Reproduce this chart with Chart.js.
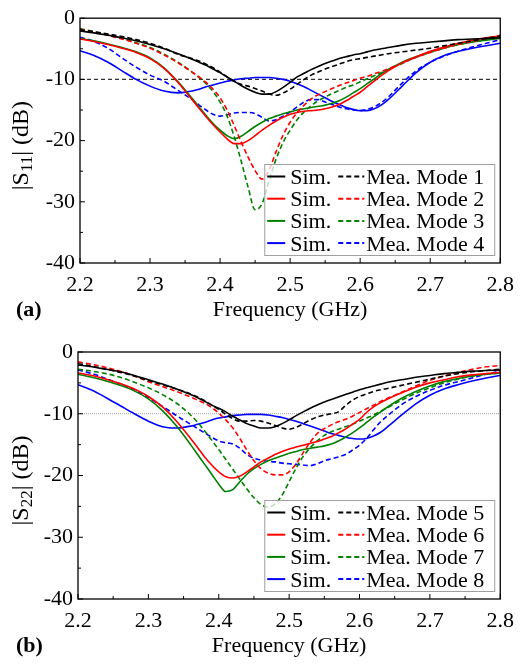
<!DOCTYPE html>
<html>
<head>
<meta charset="utf-8">
<script src="https://cdn.jsdelivr.net/npm/chart.js@4.4.1/dist/chart.umd.min.js"></script>
<style>
body{margin:0;background:#fff;}
#wrapA{position:absolute;left:0;top:0;width:523px;height:330px;}
#wrapB{position:absolute;left:0;top:330px;width:523px;height:338px;}
</style>
</head>
<body>
<div id="wrapA"><canvas id="chartA" width="523" height="330"></canvas></div>
<div id="wrapB"><canvas id="chartB" width="523" height="338"></canvas></div>
<script>
// frequency points (GHz), shared by every curve
const freq=[2.20,2.22,2.24,2.26,2.28,2.30,2.32,2.34,2.36,2.37,2.38,2.39,2.40,2.41,2.42,2.43,2.44,2.45,2.46,2.47,2.48,2.49,2.50,2.51,2.52,2.53,2.54,2.55,2.56,2.57,2.58,2.59,2.60,2.61,2.62,2.63,2.64,2.66,2.68,2.70,2.72,2.74,2.76,2.78,2.80];

const xTicks=[2.2,2.3,2.4,2.5,2.6,2.7,2.8];
const yTicks=[0,-10,-20,-30,-40];

// (a) |S11|
const s11Sim1=[-2.1,-2.4,-2.8,-3.2,-3.7,-4.3,-5.0,-5.8,-6.7,-7.2,-7.7,-8.3,-8.9,-9.6,-10.3,-11.0,-11.6,-12.1,-12.4,-12.4,-12.0,-11.3,-10.5,-9.6,-9.0,-8.4,-7.9,-7.4,-7.0,-6.6,-6.3,-6.0,-5.8,-5.5,-5.2,-5.0,-4.8,-4.4,-4.1,-3.9,-3.7,-3.5,-3.4,-3.3,-3.2];
const s11Mea1=[-1.9,-2.2,-2.6,-3.0,-3.5,-4.1,-4.9,-5.9,-6.6,-7.0,-7.5,-8.1,-8.8,-9.6,-10.3,-10.8,-11.1,-11.5,-11.9,-12.4,-12.6,-12.2,-11.6,-10.8,-10.0,-9.3,-8.8,-8.3,-7.9,-7.5,-7.1,-6.8,-6.6,-6.4,-6.2,-6.0,-5.8,-5.5,-5.2,-4.9,-4.5,-4.1,-3.7,-3.3,-2.9];
const s11Sim2=[-3.4,-3.8,-4.3,-4.9,-5.6,-6.6,-8.2,-10.5,-13.3,-14.7,-16.1,-17.4,-18.6,-19.7,-20.5,-20.5,-20.0,-19.2,-18.3,-17.5,-16.8,-16.2,-15.7,-15.4,-15.2,-15.1,-15.0,-14.8,-14.5,-14.1,-13.5,-12.8,-12.1,-11.2,-10.3,-9.4,-8.6,-7.3,-6.3,-5.4,-4.7,-4.1,-3.6,-3.2,-2.9];
const s11Mea2=[-1.8,-2.3,-2.8,-3.4,-4.1,-4.9,-6.0,-7.3,-8.8,-9.6,-10.5,-11.6,-13.0,-15.0,-17.5,-20.2,-22.7,-24.9,-26.3,-24.8,-21.8,-19.1,-17.0,-15.4,-14.2,-13.2,-12.5,-12.0,-11.5,-11.0,-10.6,-10.2,-9.8,-9.5,-9.1,-8.7,-8.3,-7.3,-6.4,-5.6,-4.9,-4.3,-3.8,-3.3,-2.8];
const s11Sim3=[-3.3,-3.7,-4.2,-4.8,-5.5,-6.5,-8.1,-10.4,-13.1,-14.5,-15.9,-17.2,-18.3,-19.2,-19.7,-19.3,-18.5,-17.7,-17.0,-16.4,-16.0,-15.6,-15.3,-15.0,-14.8,-14.6,-14.4,-14.2,-13.9,-13.5,-12.9,-12.2,-11.5,-10.7,-9.9,-9.1,-8.4,-7.2,-6.3,-5.5,-4.8,-4.3,-3.9,-3.6,-3.3];
const s11Mea3=[-1.7,-2.2,-2.7,-3.3,-4.0,-4.8,-5.9,-7.2,-8.8,-9.7,-10.7,-12.0,-13.7,-16.0,-19.3,-23.3,-27.6,-31.3,-30.3,-26.5,-23.0,-20.3,-18.3,-16.6,-15.3,-14.3,-13.5,-12.9,-12.3,-11.8,-11.3,-10.9,-10.4,-9.9,-9.4,-8.9,-8.4,-7.4,-6.4,-5.6,-4.9,-4.3,-3.9,-3.5,-3.1];
const s11Sim4=[-5.3,-6.1,-7.2,-8.6,-10.0,-11.1,-11.9,-12.2,-11.9,-11.6,-11.2,-10.9,-10.6,-10.3,-10.1,-9.9,-9.8,-9.7,-9.7,-9.7,-9.8,-10.0,-10.3,-10.7,-11.2,-11.8,-12.4,-13.0,-13.6,-14.1,-14.6,-14.9,-15.1,-15.1,-14.8,-14.2,-13.3,-11.1,-8.9,-7.2,-6.1,-5.4,-4.9,-4.5,-4.1];
const s11Mea4=[-3.1,-3.8,-4.9,-6.5,-8.0,-9.3,-10.3,-11.8,-13.3,-14.2,-15.0,-15.7,-16.0,-15.8,-15.5,-15.4,-15.4,-15.6,-16.2,-16.8,-16.6,-16.0,-15.3,-14.5,-13.7,-13.3,-13.3,-13.7,-14.1,-14.5,-14.8,-15.0,-15.1,-14.9,-14.5,-13.8,-12.9,-10.6,-8.6,-7.2,-6.2,-5.4,-4.7,-4.1,-3.5];

// (b) |S22|
const s22Sim5=[-2.1,-2.4,-2.8,-3.2,-3.8,-4.5,-5.2,-6.0,-6.9,-7.4,-8.0,-8.6,-9.1,-9.7,-10.4,-11.0,-11.6,-12.0,-12.3,-12.3,-12.1,-11.6,-11.0,-10.3,-9.7,-9.1,-8.6,-8.1,-7.7,-7.3,-6.9,-6.5,-6.1,-5.8,-5.5,-5.2,-4.9,-4.5,-4.1,-3.8,-3.5,-3.3,-3.1,-3.0,-2.9];
const s22Mea5=[-1.9,-2.3,-2.8,-3.3,-3.9,-4.6,-5.3,-6.0,-6.8,-7.3,-7.9,-8.6,-9.3,-10.1,-10.8,-11.2,-11.2,-11.1,-11.2,-11.5,-11.9,-12.3,-12.5,-12.2,-11.6,-11.0,-10.5,-10.2,-10.0,-9.7,-8.7,-7.8,-7.2,-6.8,-6.4,-6.1,-5.9,-5.4,-4.9,-4.4,-3.9,-3.5,-3.2,-3.0,-2.8];
const s22Sim6=[-3.4,-3.8,-4.4,-5.1,-6.0,-7.2,-8.9,-11.2,-14.0,-15.5,-17.0,-18.3,-19.4,-20.2,-20.4,-20.1,-19.4,-18.6,-17.8,-17.2,-16.6,-16.1,-15.7,-15.4,-15.1,-14.8,-14.5,-14.1,-13.7,-13.1,-12.5,-11.7,-10.9,-9.8,-8.9,-8.2,-7.6,-6.6,-5.7,-5.0,-4.5,-4.0,-3.7,-3.5,-3.3];
const s22Mea6=[-1.6,-2.0,-2.5,-3.1,-3.9,-4.8,-5.6,-6.4,-7.3,-7.8,-8.3,-9.0,-9.9,-11.0,-12.3,-14.0,-15.9,-17.6,-18.9,-19.6,-19.9,-19.9,-19.4,-18.1,-16.3,-14.6,-13.2,-12.4,-11.8,-11.3,-10.9,-10.4,-9.8,-9.2,-8.6,-8.0,-7.5,-6.5,-5.5,-4.6,-3.9,-3.3,-2.8,-2.4,-2.2];
const s22Sim7=[-3.6,-4.1,-4.7,-5.4,-6.3,-7.6,-9.5,-12.0,-15.0,-16.6,-18.2,-19.8,-21.4,-22.6,-22.3,-21.0,-19.8,-18.9,-18.2,-17.6,-17.2,-16.8,-16.4,-16.1,-15.8,-15.6,-15.4,-15.2,-14.9,-14.4,-13.8,-13.1,-12.3,-11.4,-10.5,-9.7,-8.9,-7.5,-6.4,-5.5,-4.8,-4.3,-3.9,-3.6,-3.4];
const s22Mea7=[-2.8,-3.1,-3.5,-4.1,-4.9,-5.8,-6.9,-8.3,-10.2,-11.4,-12.8,-14.3,-15.8,-17.4,-19.0,-20.6,-22.2,-23.6,-24.7,-25.1,-24.6,-23.2,-21.0,-18.8,-16.9,-15.5,-14.4,-13.5,-12.9,-12.5,-12.1,-11.7,-11.2,-10.7,-10.2,-9.6,-9.0,-7.8,-6.7,-5.8,-5.0,-4.4,-3.9,-3.6,-3.4];
const s22Sim8=[-5.3,-6.2,-7.4,-8.7,-10.0,-11.2,-12.1,-12.3,-12.0,-11.7,-11.4,-11.0,-10.7,-10.5,-10.3,-10.2,-10.1,-10.1,-10.1,-10.2,-10.4,-10.6,-10.9,-11.2,-11.6,-12.0,-12.4,-12.8,-13.2,-13.5,-13.8,-14.0,-14.1,-14.0,-13.6,-13.0,-12.1,-10.2,-8.4,-7.0,-6.0,-5.3,-4.7,-4.2,-3.8];
const s22Mea8=[-2.9,-3.5,-4.3,-5.2,-6.2,-7.4,-8.8,-10.3,-11.7,-12.4,-13.1,-13.8,-14.4,-14.7,-14.9,-15.6,-16.6,-17.2,-17.5,-17.7,-17.8,-18.0,-18.1,-18.2,-18.3,-18.4,-18.1,-17.6,-17.3,-17.0,-16.6,-15.9,-15.1,-14.0,-12.6,-11.3,-10.3,-8.5,-7.2,-6.2,-5.4,-4.8,-4.2,-3.6,-3.1];

const colors=['#000000','#ff0000','#008000','#0000ff'];
const FONT='"Liberation Serif", "Times New Roman", serif';

function pts(arr){
  return freq.map((f,i)=>({x:f,y:arr[i]}));
}

function buildDatasets(sims,meas){
  const ds=[];
  for(let i=0;i<4;i++){
    ds.push({data:pts(sims[i]),borderColor:colors[i],borderWidth:1.6,pointRadius:0,cubicInterpolationMode:'monotone',fill:false});
    ds.push({data:pts(meas[i]),borderColor:colors[i],borderWidth:1.6,borderDash:[5,3],pointRadius:0,cubicInterpolationMode:'monotone',fill:false});
  }
  return ds;
}

// frame, inward ticks, reference line, legend and titles
function decor(opt){
  return {
    id:'decor',
    beforeDatasetsDraw(chart){
      const ctx=chart.ctx, a=chart.chartArea, y=chart.scales.y.getPixelForValue(-10);
      ctx.save();
      ctx.beginPath();
      if(opt.refDotted){
        ctx.strokeStyle='#8a8a8a'; ctx.lineWidth=0.8; ctx.setLineDash([1,1]);
      }else{
        ctx.strokeStyle='#333'; ctx.lineWidth=1.2; ctx.setLineDash([4,3]);
      }
      ctx.moveTo(a.left,y); ctx.lineTo(a.right,y); ctx.stroke();
      ctx.restore();
    },
    afterDraw(chart){
      const ctx=chart.ctx, a=chart.chartArea, xs=chart.scales.x, ys=chart.scales.y;
      ctx.save();
      // frame
      ctx.strokeStyle='#000'; ctx.lineWidth=1.3; ctx.setLineDash([]);
      ctx.strokeRect(a.left,a.top,a.right-a.left,a.bottom-a.top);
      // ticks pointing inside
      ctx.lineWidth=1;
      ctx.beginPath();
      for(let i=0;i<xTicks.length;i++){
        const px=xs.getPixelForValue(xTicks[i]);
        ctx.moveTo(px,a.bottom); ctx.lineTo(px,a.bottom-5);
        if(i<xTicks.length-1){
          const pm=xs.getPixelForValue(xTicks[i]+0.05);
          ctx.moveTo(pm,a.bottom); ctx.lineTo(pm,a.bottom-3);
        }
      }
      for(let i=0;i<yTicks.length;i++){
        const py=ys.getPixelForValue(yTicks[i]);
        ctx.moveTo(a.left,py); ctx.lineTo(a.left+5,py);
        if(i<yTicks.length-1){
          const pm=ys.getPixelForValue(yTicks[i]-5);
          ctx.moveTo(a.left,pm); ctx.lineTo(a.left+3,pm);
        }
      }
      ctx.stroke();

      // legend
      const bw=230,bh=91;
      const bx=a.right-6-bw, by=a.bottom-8-bh;
      ctx.fillStyle='rgba(255,255,255,0.75)';
      ctx.fillRect(bx,by,bw,bh);
      ctx.strokeStyle='#a0a0a0'; ctx.lineWidth=1;
      ctx.strokeRect(bx+0.5,by+0.5,bw,bh);
      ctx.font='22px '+FONT;
      ctx.textBaseline='alphabetic'; ctx.textAlign='left';
      for(let i=0;i<4;i++){
        const cy=by+12.5+22.2*i;
        ctx.strokeStyle=colors[i]; ctx.lineWidth=2;
        ctx.setLineDash([]);
        ctx.beginPath(); ctx.moveTo(bx+3,cy); ctx.lineTo(bx+21,cy); ctx.stroke();
        ctx.setLineDash([5,3]);
        ctx.beginPath(); ctx.moveTo(bx+74,cy); ctx.lineTo(bx+100,cy); ctx.stroke();
        ctx.setLineDash([]);
        ctx.fillStyle='#000';
        ctx.fillText('Sim.',bx+26,cy+7.5);
        ctx.fillText('Mea. Mode '+opt.modes[i],bx+102,cy+7.5);
      }

      // x title and panel label
      ctx.fillStyle='#000';
      ctx.font='22px '+FONT;
      ctx.textAlign='center';
      ctx.fillText('Frequency (GHz)',(a.left+a.right)/2,a.bottom+53);
      ctx.font='bold 22px '+FONT;
      ctx.textAlign='left';
      ctx.fillText(opt.panel,16,a.bottom+53);

      // y title with subscript
      ctx.translate(28,(a.top+a.bottom)/2+5);
      ctx.rotate(-Math.PI/2);
      const big='24px '+FONT, small='17px '+FONT;
      ctx.font=big; const w1=ctx.measureText('|S').width;
      ctx.font=small; const w2=ctx.measureText(opt.sub).width;
      ctx.font=big; const w3=ctx.measureText('| (dB)').width;
      let x0=-(w1+w2+w3)/2;
      ctx.font=big; ctx.fillText('|S',x0,0); x0+=w1;
      ctx.font=small; ctx.fillText(opt.sub,x0,4); x0+=w2;
      ctx.font=big; ctx.fillText('| (dB)',x0,0);
      ctx.restore();
    }
  };
}

function makeChart(id,sims,meas,opt){
  return new Chart(document.getElementById(id),{
    type:'line',
    data:{datasets:buildDatasets(sims,meas)},
    options:{
      responsive:false,
      animation:false,
      events:[],
      layout:{padding:{left:0,right:opt.padRight,top:opt.padTop,bottom:0}},
      plugins:{legend:{display:false},tooltip:{enabled:false}},
      scales:{
        x:{
          type:'linear',min:2.2,max:2.8,
          grid:{display:false,drawTicks:false},
          border:{display:false},
          ticks:{stepSize:0.1,padding:9,color:'#000',font:{family:FONT,size:22},
            callback:v=>Number(v).toFixed(1)},
          afterFit(s){s.height=opt.xHeight;}
        },
        y:{
          min:-40,max:0,
          grid:{display:false,drawTicks:false},
          border:{display:false},
          ticks:{stepSize:10,padding:5,color:'#000',font:{family:FONT,size:22}},
          afterFit(s){s.width=opt.yWidth;}
        }
      }
    },
    plugins:[decor(opt)]
  });
}

makeChart('chartA',
  [s11Sim1,s11Sim2,s11Sim3,s11Sim4],
  [s11Mea1,s11Mea2,s11Mea3,s11Mea4],
  {padTop:16,padRight:18,xHeight:67,yWidth:80,modes:[1,2,3,4],panel:'(a)',sub:'11',refDotted:false});

makeChart('chartB',
  [s22Sim5,s22Sim6,s22Sim7,s22Sim8],
  [s22Mea5,s22Mea6,s22Mea7,s22Mea8],
  {padTop:22,padRight:20,xHeight:69,yWidth:78,modes:[5,6,7,8],panel:'(b)',sub:'22',refDotted:true});
</script>
</body>
</html>
